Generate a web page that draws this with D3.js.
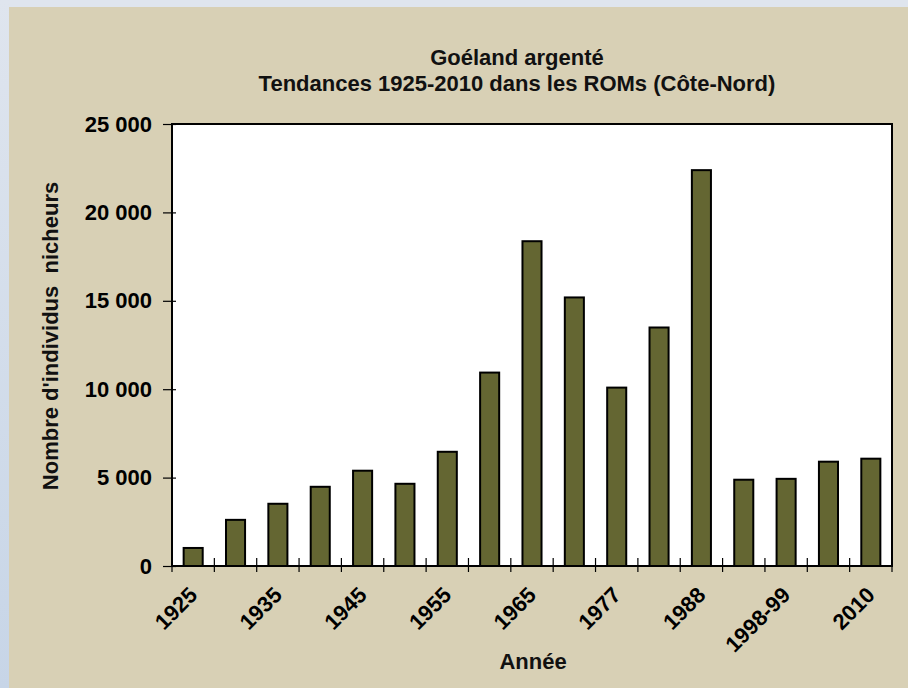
<!DOCTYPE html>
<html>
<head>
<meta charset="utf-8">
<script src="https://cdn.jsdelivr.net/npm/d3@7"></script>
<style>
  html, body { margin: 0; padding: 0; background: #dfe5ee; }
  svg { display: block; font-family: "Liberation Sans", Arial, sans-serif; }
</style>
</head>
<body>
<div id="chart"></div>
<script>
// Data
const years = ["1925", "1930", "1935", "1940", "1945", "1950", "1955", "1960", "1965",
               "1972", "1977", "1982", "1988", "1993", "1998-99", "2004", "2010"];
const counts = [1020, 2610, 3520, 4480, 5390, 4650, 6460, 10940, 18370,
                15190, 10090, 13490, 22390, 4880, 4930, 5900, 6070];
const shownLabels = ["1925", "1935", "1945", "1955", "1965", "1977", "1988", "1998-99", "2010"];
const yTicks = [0, 5000, 10000, 15000, 20000, 25000];

const W = 908, H = 688;
const margin = { top: 124, right: 16, bottom: 122, left: 172 };
const width = W - margin.left - margin.right, height = H - margin.top - margin.bottom;
const fontSize = 22;

const svg = d3.select("#chart").append("svg")
    .attr("width", W)
    .attr("height", H);

// Backdrop: blue-grey frame with the beige panel
const defs = svg.append("defs");
const grad = defs.append("linearGradient").attr("id", "side").attr("x1", 0).attr("y1", 0).attr("x2", 0).attr("y2", 1);
grad.append("stop").attr("offset", "0%").attr("stop-color", "#dfe5ee");
grad.append("stop").attr("offset", "100%").attr("stop-color", "#c7d5e7");
svg.append("rect").attr("width", W).attr("height", H).attr("fill", "#dfe5ee");
svg.append("rect").attr("width", 9).attr("height", H).attr("fill", "url(#side)");
svg.append("rect").attr("x", 9).attr("y", 7).attr("width", W - 9).attr("height", H - 7).attr("fill", "#d8d0b5");

// Title
const title = svg.append("text")
    .attr("text-anchor", "middle")
    .attr("font-size", fontSize).attr("font-weight", "bold").attr("fill", "#111");
title.append("tspan").attr("x", 517).attr("y", 65).text("Goéland argenté");
title.append("tspan").attr("x", 517).attr("y", 91).text("Tendances 1925-2010 dans les ROMs (Côte-Nord)");

const g = svg.append("g").attr("transform", `translate(${margin.left},${margin.top})`);

// Scales
const x = d3.scaleBand()
    .domain(years)
    .range([0, width])
    .paddingInner(0.55)
    .paddingOuter(0.275);

const y = d3.scaleLinear()
    .domain([0, 25000])
    .range([height, 0]);

const fmt = d3.formatLocale({ decimal: ",", thousands: " ", grouping: [3], currency: ["", ""] }).format(",");

// Plot area
g.append("rect")
    .attr("width", width).attr("height", height)
    .attr("fill", "#fff");

// Bars
g.selectAll(".bar")
    .data(counts)
    .enter()
    .append("rect")
    .attr("class", "bar")
    .attr("x", (d, i) => x(years[i]))
    .attr("y", d => y(d))
    .attr("width", x.bandwidth())
    .attr("height", d => height - y(d))
    .attr("fill", "#646632")
    .attr("stroke", "#000")
    .attr("stroke-width", 2);

// Plot border
g.append("rect")
    .attr("width", width).attr("height", height)
    .attr("fill", "none")
    .attr("stroke", "#000")
    .attr("stroke-width", 2);

// Y axis
const yAxis = g.append("g")
    .call(d3.axisLeft(y).tickValues(yTicks).tickFormat(fmt).tickSize(9).tickPadding(11));
yAxis.select(".domain").remove();
yAxis.selectAll(".tick line").attr("x2", -9).attr("x1", 4).attr("stroke", "#000").attr("stroke-width", 1.2);
yAxis.selectAll(".tick text")
    .attr("font-size", fontSize).attr("font-weight", "bold").attr("fill", "#000")
    .attr("font-family", "'Liberation Sans', Arial, sans-serif");

// X axis ticks at category boundaries
const bounds = years.map(d => x(d) + x.bandwidth() / 2 - x.step() / 2).concat([width]);
g.selectAll(".xtick")
    .data(bounds)
    .enter()
    .append("line")
    .attr("x1", d => d).attr("x2", d => d)
    .attr("y1", height - 8).attr("y2", height + 6)
    .attr("stroke", "#000").attr("stroke-width", 1.2);

// X labels, every other category
g.selectAll(".xlabel")
    .data(shownLabels)
    .enter()
    .append("text")
    .attr("transform", d => `translate(${x(d) + x.bandwidth() / 2},${height + 25}) rotate(-45)`)
    .attr("text-anchor", "end")
    .attr("dy", "0.35em")
    .attr("font-size", fontSize).attr("font-weight", "bold").attr("fill", "#000")
    .text(d => d);

// Axis titles
svg.append("text")
    .attr("x", 533).attr("y", 669)
    .attr("text-anchor", "middle")
    .attr("font-size", fontSize).attr("font-weight", "bold").attr("fill", "#111")
    .text("Année");

svg.append("text")
    .attr("transform", "translate(58,336) rotate(-90)")
    .attr("text-anchor", "middle")
    .attr("font-size", fontSize).attr("font-weight", "bold").attr("fill", "#111")
    .attr("xml:space", "preserve")
    .text("Nombre d'individus  nicheurs");
</script>
</body>
</html>
